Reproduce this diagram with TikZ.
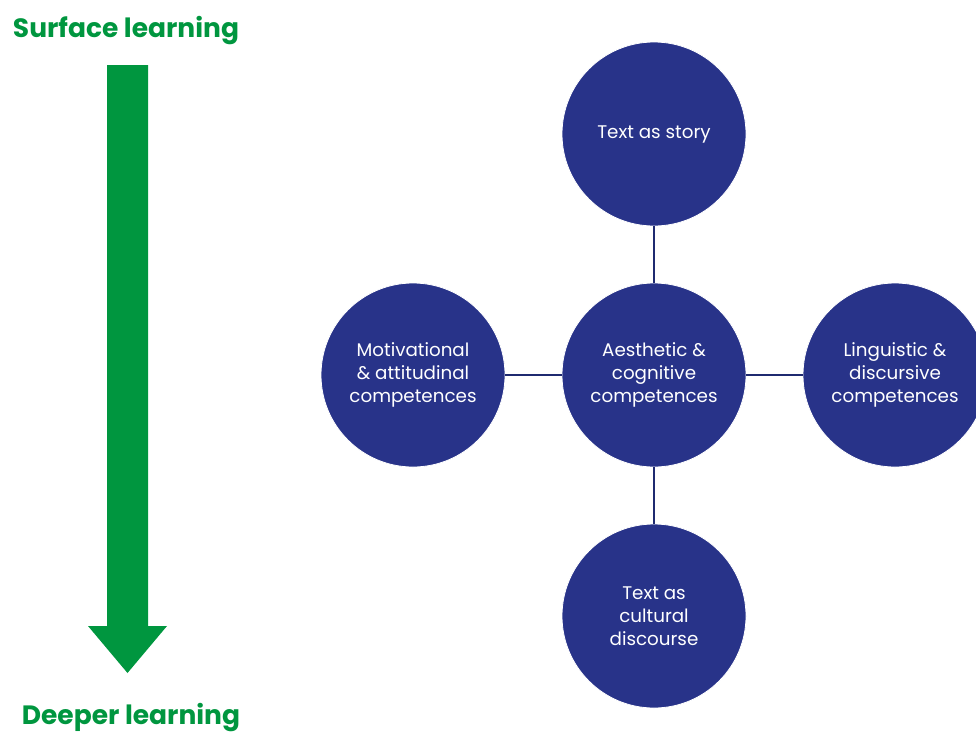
\documentclass[tikz,border=0pt]{standalone}
\usepackage{fontspec}
\setmainfont{Poppins}
\definecolor{navy}{HTML}{283389}
\definecolor{linkc}{HTML}{1F2A70}
\definecolor{lgreen}{HTML}{00963F}
\begin{document}
\begin{tikzpicture}[x=1pt,y=-1pt,
  bubble/.style={circle, minimum size=184pt, inner sep=0pt, fill=navy, draw=white, line width=0.8pt,
    text=white, align=center, font=\fontsize{18.3}{23}\selectfont},
  link/.style={draw=linkc, line width=2pt},
  heading/.style={text=lgreen, font=\fontsize{26.5}{30}\selectfont\bfseries}]
\useasboundingbox (0,0) rectangle (976,736);
\node[heading] (surf) at (126,31) {Surface learning};
\node[heading] (deep) at (131,718) {Deeper learning};
\fill[lgreen] (107,65) -- (148,65) -- (148,626) -- (167,626) -- (127.5,673) -- (88,626) -- (107,626) -- cycle;
\node[bubble] (top) at (654,134) {Text as story};
\node[bubble] (ctr) at (654,375) {Aesthetic \&\\cognitive\\competences};
\node[bubble] (lft) at (413,375) {Motivational\\\& attitudinal\\competences};
\node[bubble] (rgt) at (895,375) {Linguistic \&\\discursive\\competences};
\node[bubble] (bot) at (654,616) {Text as\\cultural\\discourse};
\draw[link] (top) -- (ctr);
\draw[link] (lft) -- (ctr);
\draw[link] (ctr) -- (rgt);
\draw[link] (ctr) -- (bot);
\end{tikzpicture}
\end{document}
